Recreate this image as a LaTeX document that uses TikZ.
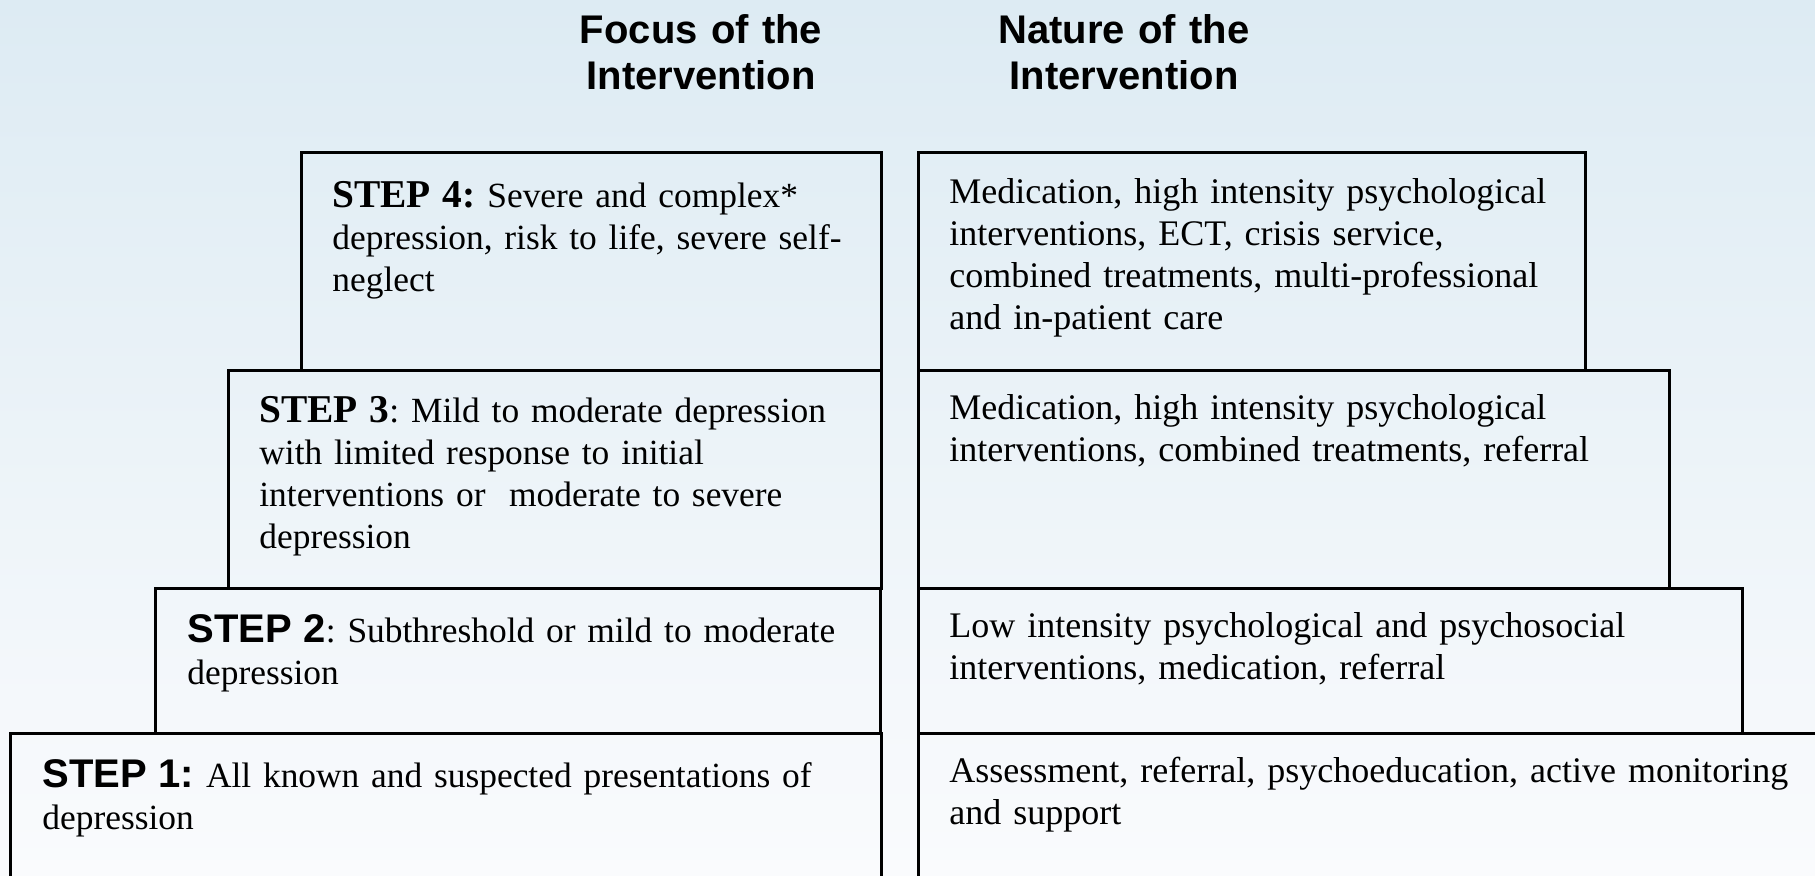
\documentclass[tikz,border=0pt]{standalone}
\usepackage{fontspec}
\setmainfont{Liberation Serif}
\setsansfont{Liberation Sans}
\usetikzlibrary{positioning}
\definecolor{bgtop}{RGB}{221,235,243}
\definecolor{bgbot}{RGB}{250,251,253}
\newcommand{\stepsans}[1]{{\sffamily\bfseries\fontsize{20}{21}\selectfont #1}}
\newcommand{\stepserif}[1]{{\bfseries\fontsize{19.7}{21}\selectfont #1}}
\frenchspacing

\begin{document}
\begin{tikzpicture}[line join=miter,x=0.5pt,y=-0.5pt,
  boxline/.style={draw=black,line width=1.5pt},
  body/.style={anchor=base west,inner sep=0pt,text width=440pt,align=left,
    font=\fontsize{18}{21}\selectfont},
  leftbody/.style={body,font=\fontsize{17.7}{21}\selectfont},
  head/.style={anchor=base,inner sep=0pt,text width=160pt,align=center,
    font=\sffamily\bfseries\fontsize{20}{23}\selectfont}]
\useasboundingbox (0,0) rectangle (1815,875);
\clip (0,0) rectangle (1815,875);
\shade[top color=bgtop,bottom color=bgbot] (0,0) rectangle (1815,875);
% column heads
\node[head] (focus) at (701,43) {Focus of the\\Intervention};
\node[head] (nature) at (1124,43) {Nature of the\\Intervention};
% left column, focus of the intervention
\draw[boxline] (301,152) rectangle (881,370);
\draw[boxline] (228,370) rectangle (881,588);
\draw[boxline] (155,588) rectangle (880,733);
\draw[boxline] (10,733) rectangle (881,900);
% right column, nature of the intervention
\draw[boxline] (918,152) rectangle (1585,370);
\draw[boxline] (918,370) rectangle (1669,588);
\draw[boxline] (918,588) rectangle (1742,733);
\draw[boxline] (918,733) rectangle (1830,900);
% texts
\node[leftbody] (focusfour) at (332,207) {\stepserif{STEP 4:} Severe and complex*\\depression, risk to life, severe self-\\neglect};
\node[leftbody] (focusthree) at (259,422) {\stepserif{STEP 3}: Mild to moderate depression\\with limited response to initial\\interventions or\ \ moderate to severe\\depression};
\node[leftbody] (focustwo) at (187,642) {\stepsans{STEP 2}: Subthreshold or mild to moderate\\depression};
\node[leftbody] (focusone) at (42,787) {\stepsans{STEP 1:} All known and suspected presentations of\\depression};
\node[body] (naturefour) at (949,203) {Medication, high intensity psychological\\interventions, ECT, crisis service,\\combined treatments, multi-professional\\and in-patient care};
\node[body] (naturethree) at (949,419) {Medication, high intensity psychological\\interventions, combined treatments, referral};
\node[body] (naturetwo) at (949,637) {Low intensity psychological and psychosocial\\interventions, medication, referral};
\node[body] (natureone) at (949,782) {Assessment, referral, psychoeducation, active monitoring\\and support};
\end{tikzpicture}
\end{document}
